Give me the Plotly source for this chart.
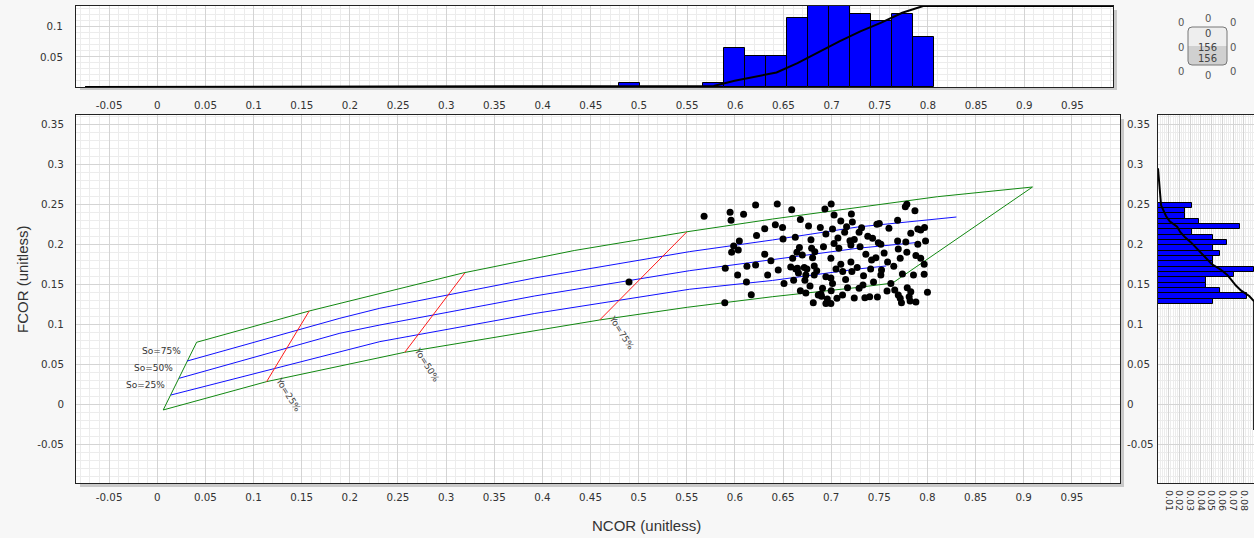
import numpy as np
import plotly.graph_objects as go

W, H = 1254, 538

# ---------------- sample measurements ----------------
ncor = [
    0.490,
    0.568, 0.595, 0.596, 0.609, 0.6215, 0.631, 0.6225, 0.6046, 0.5987, 0.6035, 0.5966,
    0.631, 0.6374, 0.590, 0.6125, 0.6215, 0.6028, 0.634, 0.612, 0.617, 0.5895,
    0.644, 0.659, 0.700, 0.6935, 0.703, 0.721, 0.710, 0.722, 0.668, 0.642, 0.6495,
    0.6765, 0.6887, 0.7014, 0.6945, 0.707, 0.7195, 0.724, 0.650, 0.6627, 0.679, 0.7205,
    0.667, 0.6797, 0.6644, 0.683, 0.670, 0.660, 0.6807, 0.6997, 0.7205, 0.710, 0.658,
    0.6633, 0.672, 0.6748, 0.6824, 0.666, 0.6737, 0.6824, 0.6945, 0.6997, 0.7215, 0.6727,
    0.651, 0.7014, 0.691, 0.6737, 0.6893, 0.7118, 0.717, 0.724, 0.706, 0.696, 0.6997,
    0.6945, 0.6814, 0.6866,
    0.7786, 0.777, 0.787, 0.769, 0.750, 0.7475, 0.7316, 0.729, 0.760, 0.7827, 0.790,
    0.793, 0.743, 0.749, 0.7516, 0.769, 0.7775, 0.798, 0.730, 0.736, 0.755, 0.7697,
    0.7786, 0.7717, 0.788, 0.793, 0.7464, 0.742, 0.7586, 0.7966, 0.765, 0.7523, 0.741,
    0.7336, 0.7516, 0.7855, 0.7966, 0.744, 0.762, 0.729, 0.758, 0.779, 0.7827, 0.800,
    0.735, 0.740, 0.7697, 0.7717, 0.781, 0.782, 0.788, 0.773,
    0.645, 0.665, 0.668, 0.661, 0.685, 0.690, 0.678, 0.692, 0.705, 0.712, 0.700, 0.715,
    0.708, 0.703, 0.714, 0.716, 0.727, 0.733, 0.738, 0.748, 0.766, 0.774, 0.790, 0.797,
]
fcor = [
    0.153,
    0.235, 0.240, 0.230, 0.2375, 0.249, 0.2195, 0.211, 0.204, 0.198, 0.193, 0.190,
    0.1875, 0.1795, 0.170, 0.1725, 0.174, 0.1616, 0.1616, 0.153, 0.137, 0.127,
    0.2504, 0.2433, 0.2504, 0.244, 0.2366, 0.238, 0.229, 0.228, 0.231, 0.2245, 0.221,
    0.223, 0.221, 0.219, 0.213, 0.208, 0.2045, 0.206, 0.2066, 0.2088, 0.2058, 0.199,
    0.196, 0.195, 0.190, 0.1908, 0.1866, 0.1825, 0.1833, 0.1825, 0.178, 0.175, 0.1715,
    0.169, 0.171, 0.169, 0.173, 0.164, 0.1616, 0.1616, 0.1595, 0.158, 0.166, 0.155,
    0.151, 0.151, 0.145, 0.139, 0.138, 0.1366, 0.1458, 0.133, 0.1325, 0.1316, 0.126,
    0.126, 0.127, 0.1366,
    0.250, 0.247, 0.242, 0.230, 0.226, 0.225, 0.2208, 0.215, 0.220, 0.2137, 0.219,
    0.218, 0.2075, 0.202, 0.200, 0.204, 0.203, 0.204, 0.197, 0.1875, 0.189, 0.194,
    0.190, 0.1825, 0.186, 0.1825, 0.1833, 0.1804, 0.178, 0.175, 0.1725, 0.168, 0.169,
    0.1608, 0.1616, 0.1616, 0.1625, 0.153, 0.151, 0.145, 0.1416, 0.1458, 0.1408, 0.140,
    0.1333, 0.1345, 0.1366, 0.1325, 0.1345, 0.129, 0.128, 0.127,
    0.168, 0.170, 0.142, 0.155, 0.167, 0.135, 0.148, 0.197, 0.169, 0.166, 0.142, 0.156,
    0.195, 0.201, 0.215, 0.222, 0.171, 0.149, 0.210, 0.134, 0.143, 0.163, 0.200, 0.221,
]

# ---------------- nomogram geometry ----------------
# outer envelope (So = 100%, Yo = 100%, So = 0%, Yo = 0%)
env_ncor = [0.0062, 0.0409, 0.1578, 0.3174, 0.4331, 0.5489, 0.6392, 0.7274, 0.8105, 0.9091,
            0.7637, 0.7274, 0.6392, 0.5509, 0.4596, 0.2571, 0.1136, 0.0062]
env_fcor = [-0.0071, 0.0775, 0.1166, 0.1641, 0.1922, 0.2154, 0.2316, 0.2458, 0.2595, 0.2716,
            0.1515, 0.1460, 0.1345, 0.1213, 0.1054, 0.0650, 0.0283, -0.0071]

# So iso-lines
so75_ncor = [0.0311, 0.1897, 0.2312, 0.3921, 0.5530, 0.6391, 0.7274, 0.8301]
so75_fcor = [0.0541, 0.1075, 0.1200, 0.1579, 0.1908, 0.2054, 0.2216, 0.2341]
so50_ncor = [0.0228, 0.1897, 0.2312, 0.3921, 0.5530, 0.6391, 0.7274, 0.7917]
so50_fcor = [0.0325, 0.0888, 0.0991, 0.1354, 0.1670, 0.1808, 0.1950, 0.2025]
so25_ncor = [0.0142, 0.1897, 0.2312, 0.3921, 0.5530, 0.6391, 0.7274, 0.7572]
so25_fcor = [0.0116, 0.0658, 0.0783, 0.1135, 0.1438, 0.1548, 0.1691, 0.1729]
so_labels = ["So=75%", "So=50%", "So=25%"]

# Yo iso-lines
yo25_ncor = [0.1136, 0.1578]
yo25_fcor = [0.0283, 0.1166]
yo50_ncor = [0.2571, 0.3194]
yo50_fcor = [0.0650, 0.1641]
yo75_ncor = [0.4596, 0.5500]
yo75_fcor = [0.1054, 0.2154]
yo_labels = ["Yo=25%", "Yo=50%", "Yo=75%"]

# histogram binning
ncor_bin_start, ncor_bin_size, ncor_nbins = 0.4797, 0.02175, 15
fcor_bin_start, fcor_bin_size, fcor_nbins = 0.1254, 0.0066632, 19
cdf_ncor_extent = [-0.075, 0.9921]
cdf_fcor_extent = [-0.032, 0.295]

# axis ticks
main_x_ticks = [-0.05, 0, 0.05, 0.1, 0.15, 0.2, 0.25, 0.3, 0.35, 0.4, 0.45, 0.5,
                0.55, 0.6, 0.65, 0.7, 0.75, 0.8, 0.85, 0.9, 0.95]
main_y_ticks = [-0.05, 0, 0.05, 0.1, 0.15, 0.2, 0.25, 0.3, 0.35]
top_y_ticks = [0.05, 0.1]
side_x_ticks = [0.01, 0.02, 0.03, 0.04, 0.05, 0.06, 0.07, 0.08]

x_range = [-0.0844, 1.0]
x_range_top = [-0.0844, 0.9921]
y_range = [-0.0984, 0.3616]
side_x_range = [0, 0.0896]

# ---------------- derived quantities ----------------
nx = np.array(ncor)
ny = np.array(fcor)
n = len(nx)

edges_n = ncor_bin_start + ncor_bin_size * np.arange(ncor_nbins + 1)
cnt_n = np.histogram(nx, edges_n)[0]
ctr_n = 0.5 * (edges_n[:-1] + edges_n[1:])
scale_n = cnt_n.max() / n
cdf_n = np.cumsum(cnt_n) / n * scale_n

edges_f = fcor_bin_start + fcor_bin_size * np.arange(fcor_nbins + 1)
cnt_f = np.histogram(ny, edges_f)[0]
ctr_f = 0.5 * (edges_f[:-1] + edges_f[1:])
scale_f = cnt_f.max() / n
# accumulated from the highest FCOR bin downwards, ordered top to bottom
cdf_f_desc = np.cumsum(cnt_f[::-1]) / n * scale_f
ctr_f_desc = ctr_f[::-1]


def px_x(p):
    return p / W


def px_y(p):
    return 1 - p / H


# subplot domains (pixels)
main_dx = [px_x(76), px_x(1120)]
main_dy = [px_y(483), px_y(115)]
top_dx = [px_x(76), px_x(1113)]
top_dy = [px_y(87), px_y(6)]
side_dx = [px_x(1158), 1.0]

fig = go.Figure()

GREEN = "#118811"
BLUE = "#1010ff"
RED = "#ff1a1a"

fig.add_trace(go.Scatter(x=env_ncor, y=env_fcor, mode="lines",
                         line=dict(color=GREEN, width=1), hoverinfo="skip"))
for xs, ys in [(so75_ncor, so75_fcor), (so50_ncor, so50_fcor), (so25_ncor, so25_fcor)]:
    fig.add_trace(go.Scatter(x=xs, y=ys, mode="lines", line=dict(color=BLUE, width=1),
                             hoverinfo="skip"))
for xs, ys in [(yo25_ncor, yo25_fcor), (yo50_ncor, yo50_fcor), (yo75_ncor, yo75_fcor)]:
    fig.add_trace(go.Scatter(x=xs, y=ys, mode="lines", line=dict(color=RED, width=1),
                             hoverinfo="skip"))

fig.add_trace(go.Scatter(x=ncor, y=fcor, mode="markers",
                         marker=dict(color="black", size=7, line=dict(width=0))))
# carrier for the right-hand FCOR scale of the main panel
fig.add_trace(go.Scatter(x=ncor, y=fcor, mode="markers", yaxis="y4",
                         marker=dict(opacity=0, size=1), hoverinfo="skip"))

# top histogram of NCOR
fig.add_trace(go.Histogram(
    x=ncor, histnorm="probability",
    xbins=dict(start=ncor_bin_start, end=edges_n[-1], size=ncor_bin_size),
    marker=dict(color="#0000ff", line=dict(color="#000", width=1)),
    xaxis="x2", yaxis="y2"))
fig.add_trace(go.Scatter(
    x=[cdf_ncor_extent[0]] + list(ctr_n) + [cdf_ncor_extent[1]],
    y=[0] + list(cdf_n) + [scale_n],
    mode="lines", line=dict(color="black", width=2), xaxis="x2", yaxis="y2"))

# side histogram of FCOR
fig.add_trace(go.Histogram(
    y=fcor, orientation="h", histnorm="probability",
    ybins=dict(start=fcor_bin_start, end=edges_f[-1], size=fcor_bin_size),
    marker=dict(color="#0000ff", line=dict(color="#000", width=1)),
    xaxis="x3", yaxis="y3"))
fig.add_trace(go.Scatter(
    x=[0] + list(cdf_f_desc) + [scale_f],
    y=[cdf_fcor_extent[1]] + list(ctr_f_desc) + [cdf_fcor_extent[0]],
    mode="lines", line=dict(color="black", width=2), xaxis="x3", yaxis="y3"))

TICKFONT = dict(family="DejaVu Sans", size=10.3, color="#333")


def fmt(v):
    return f"{v:g}"


def axis(domain, rng, ticks, minor_d=0.01, show_labels=True, **kw):
    d = dict(domain=domain, range=rng, tickmode="array", tickvals=ticks,
             ticktext=[fmt(v) for v in ticks], showgrid=True, gridcolor="#d4d4d4",
             gridwidth=1, zeroline=False, showline=True, linecolor="#222", linewidth=1,
             mirror=True, ticks="", tickfont=TICKFONT, showticklabels=show_labels,
             minor=dict(tickmode="linear", tick0=0, dtick=minor_d, showgrid=True,
                        gridcolor="#ececec", ticks=""),
             fixedrange=True)
    d.update(kw)
    return d


fig.update_layout(
    width=W, height=H, margin=dict(l=0, r=0, t=0, b=0),
    paper_bgcolor="#f7f7f7", plot_bgcolor="white", showlegend=False,
    xaxis=axis(main_dx, x_range, main_x_ticks, anchor="y", ticklabelstandoff=5),
    yaxis=axis(main_dy, y_range, main_y_ticks, anchor="x", ticklabelstandoff=9),
    yaxis4=dict(overlaying="y", side="right", anchor="x", range=y_range,
                tickmode="array", tickvals=main_y_ticks,
                ticktext=[fmt(v) for v in main_y_ticks], showgrid=False,
                zeroline=False, showline=False, ticks="", tickfont=TICKFONT,
                ticklabelstandoff=6, fixedrange=True),
    xaxis2=axis(top_dx, x_range_top, main_x_ticks, anchor="y2", ticklabelstandoff=9),
    yaxis2=axis(top_dy, [0, scale_n], top_y_ticks, anchor="x2", ticklabelstandoff=10),
    xaxis3=axis(side_dx, side_x_range, side_x_ticks, minor_d=0.002, anchor="y3",
                tickangle=90, ticklabelstandoff=4,
                tickfont=dict(family="DejaVu Sans", size=9.5, color="#333")),
    yaxis3=axis(main_dy, y_range, main_y_ticks, anchor="x3", show_labels=False),
)

# drop shadows beside the panels
shapes = []
for (x0, x1, y0, y1) in [(80, 1124, 483, 487), (1120, 1124, 119, 487),
                         (80, 1117, 87, 90), (1113, 1117, 10, 90)]:
    shapes.append(dict(type="rect", xref="paper", yref="paper",
                       x0=px_x(x0), x1=px_x(x1), y0=px_y(y1), y1=px_y(y0),
                       fillcolor="#c9c9c9", line=dict(width=0), layer="below"))

# point-count indicator box with rounded corners
BX0, BX1, BYT, BYM, BYB = px_x(1188), px_x(1227), px_y(27), px_y(46), px_y(65)
RX, RY = 4 / W, 4 / H
box_path = (f"M{BX0 + RX},{BYT} L{BX1 - RX},{BYT} Q{BX1},{BYT} {BX1},{BYT - RY} "
            f"L{BX1},{BYB + RY} Q{BX1},{BYB} {BX1 - RX},{BYB} L{BX0 + RX},{BYB} "
            f"Q{BX0},{BYB} {BX0},{BYB + RY} L{BX0},{BYT - RY} Q{BX0},{BYT} {BX0 + RX},{BYT} Z")
box_top_path = (f"M{BX0},{BYM} L{BX0},{BYT - RY} Q{BX0},{BYT} {BX0 + RX},{BYT} "
                f"L{BX1 - RX},{BYT} Q{BX1},{BYT} {BX1},{BYT - RY} L{BX1},{BYM} Z")
shapes.append(dict(type="path", xref="paper", yref="paper", path=box_path,
                   fillcolor="#d0d0d0", line=dict(width=0)))
shapes.append(dict(type="path", xref="paper", yref="paper", path=box_top_path,
                   fillcolor="#eeeeee", line=dict(width=0)))
shapes.append(dict(type="path", xref="paper", yref="paper", path=box_path,
                   fillcolor="rgba(0,0,0,0)", line=dict(color="#777", width=1)))
fig.update_layout(shapes=shapes)

annotations = []

# So / Yo labels beside their lines
for lab, xs, ys in zip(so_labels, [so75_ncor, so50_ncor, so25_ncor],
                       [so75_fcor, so50_fcor, so25_fcor]):
    annotations.append(dict(x=xs[0], y=ys[0], xref="x", yref="y", text=lab, showarrow=False,
                            xanchor="right", yanchor="middle", xshift=-4, yshift=10,
                            font=dict(family="DejaVu Sans", size=9, color="#333")))
for lab, xs, ys in zip(yo_labels, [yo25_ncor, yo50_ncor, yo75_ncor],
                       [yo25_fcor, yo50_fcor, yo75_fcor]):
    annotations.append(dict(x=xs[0], y=ys[0], xref="x", yref="y", text=lab, showarrow=False,
                            xanchor="center", yanchor="middle", xshift=22, yshift=-13,
                            textangle=58,
                            font=dict(family="DejaVu Sans", size=9, color="#444")))

# axis titles
annotations.append(dict(x=px_x(646), y=px_y(525), xref="paper", yref="paper",
                        text="NCOR (unitless)", showarrow=False,
                        xanchor="center", yanchor="middle",
                        font=dict(family="Liberation Sans", size=15, color="#333")))
annotations.append(dict(x=px_x(22), y=px_y(279), xref="paper", yref="paper",
                        text="FCOR (unitless)", showarrow=False, textangle=-90,
                        xanchor="center", yanchor="middle",
                        font=dict(family="Liberation Sans", size=15, color="#333")))

# counts inside / around the plotted window
left = nx < x_range[0]
right = nx > x_range[1]
below = ny < y_range[0]
above = ny > y_range[1]
midx = ~left & ~right
midy = ~below & ~above
n_in = int(np.sum(midx & midy))
around = {
    (1181, 23): int(np.sum(left & above)), (1208, 18): int(np.sum(midx & above)),
    (1233, 23): int(np.sum(right & above)), (1181, 48): int(np.sum(left & midy)),
    (1233, 48): int(np.sum(right & midy)), (1181, 71): int(np.sum(left & below)),
    (1208, 75): int(np.sum(midx & below)), (1233, 71): int(np.sum(right & below)),
}
BOXFONT = dict(family="DejaVu Sans", size=10, color="#555")
for (px, py), v in around.items():
    annotations.append(dict(x=px_x(px), y=px_y(py), xref="paper", yref="paper", text=str(v),
                            showarrow=False, xanchor="center", yanchor="middle",
                            font=BOXFONT))
for py, v in [(34, n - n_in), (47, n_in), (59, n)]:
    annotations.append(dict(x=px_x(1207.5), y=px_y(py), xref="paper", yref="paper",
                            text=str(v), showarrow=False, xanchor="center", yanchor="middle",
                            font=dict(family="DejaVu Sans", size=10, color="#444")))

fig.update_layout(annotations=annotations)

fig.write_html("out.html")
